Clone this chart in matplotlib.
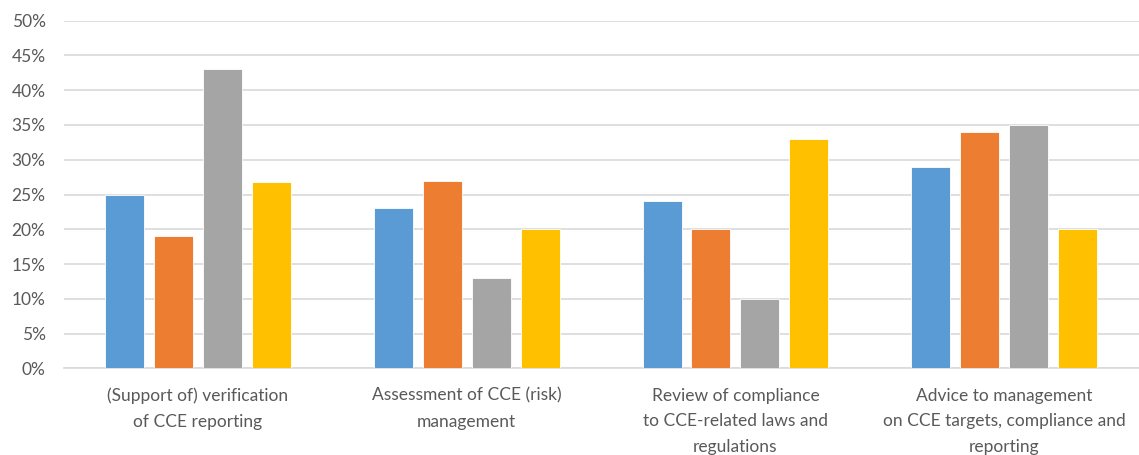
import matplotlib
matplotlib.use("Agg")
import matplotlib.pyplot as plt
import numpy as np
from matplotlib.ticker import MultipleLocator, FuncFormatter

categories = [
    "(Support of) verification\nof CCE reporting",
    "Assessment of CCE (risk)\nmanagement",
    "Review of compliance\nto CCE-related laws and\nregulations",
    "Advice to management\non CCE targets, compliance and\nreporting",
]
series_1 = [25, 23, 24, 29]
series_2 = [19, 27, 20, 34]
series_3 = [43, 13, 10, 35]
series_4 = [26.8, 20, 33, 20]

COLORS = ["#5B9BD5", "#ED7D31", "#A5A5A5", "#FFC000"]
TEXT = "#595959"
GRID = "#D9D9D9"

plt.rcParams.update({
    "font.family": ["Lato", "DejaVu Sans"],
    "font.size": 12.5,
})

fig = plt.figure(figsize=(11.39, 4.55), dpi=100)
ax = fig.add_axes([63.6 / 1139, (455 - 368.3) / 455, (1138.5 - 63.6) / 1139, (368.3 - 20.7) / 455])

x = np.arange(len(categories))
width = 0.145
step = 0.182
for i, (vals, color) in enumerate(zip([series_1, series_2, series_3, series_4], COLORS)):
    ax.bar(x + (i - 1.5) * step, vals, width, color=color, edgecolor="white",
           linewidth=0.6, zorder=3)

ax.set_xlim(-0.5, len(categories) - 0.5)
ax.set_ylim(0, 50)
ax.yaxis.set_major_locator(MultipleLocator(5))
ax.yaxis.set_major_formatter(FuncFormatter(lambda v, _: f"{v:.0f}%"))
ax.grid(axis="y", color=GRID, linewidth=1.2, zorder=0)
for side in ("top", "right", "left"):
    ax.spines[side].set_visible(False)
ax.spines["bottom"].set_color(GRID)
ax.spines["bottom"].set_linewidth(1.2)
ax.tick_params(length=0, colors=TEXT, labelsize=12.5)
ax.tick_params(axis="y", pad=13)
ax.tick_params(axis="x", pad=14)
ax.set_xticks(x)
ax.set_xticklabels(categories, linespacing=1.75)
for lbl in ax.get_yticklabels():
    lbl.set_horizontalalignment("right")

fig.savefig("out.png", dpi=100)
